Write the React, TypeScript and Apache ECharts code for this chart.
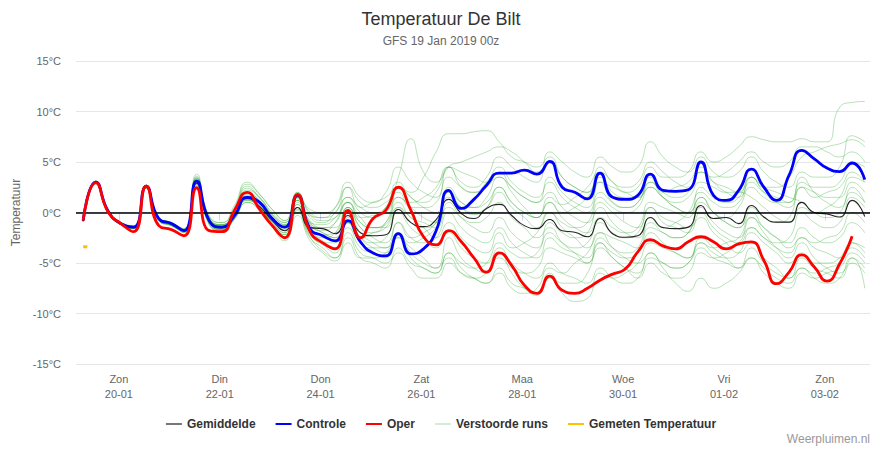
import React, { useEffect, useRef } from "react";
import * as echarts from "echarts";

// time axis: hours since 20-01 00:00, data every 6 hours
const START_HOUR = -17;
const STEP_HOURS = 6;

const TICK_HOURS = [0, 48, 96, 144, 192, 240, 288, 336];
const TICK_DAYS = ["Zon", "Din", "Don", "Zat", "Maa", "Woe", "Vri", "Zon"];
const TICK_DATES = ["20-01", "22-01", "24-01", "26-01", "28-01", "30-01", "01-02", "03-02"];

const GEMIDDELDE = [-0.8, 2.9, 0.0, -1.1, -1.5, 2.5, -0.7, -1.1, -1.8, 2.9, -0.9, -1.5, -0.2, 1.4, 0.6, -0.8, -1.8, 0.5, -1.5, -1.6, -2.1, -0.3, -2.0, -2.3, -2.2, 0.3, -1.0, -1.4, -0.7, 1.3, -0.1, -0.6, 0.4, 0.8, -0.3, -1.3, -1.6, -0.7, -1.8, -1.95, -2.4, -0.6, -2.1, -2.45, -2.3, -0.5, -1.5, -1.6, -1.45, 0.7, -0.6, -0.5, -1.1, 0.7, -0.45, -0.95, -0.95, 1.0, 0.0, -0.15, -0.45, 1.2, -0.4];
const CONTROLE = [-0.8, 3.0, 0.1, -1.1, -1.45, 2.6, -0.6, -1.1, -1.8, 3.1, -0.8, -1.45, -0.3, 1.5, 1.0, -0.6, -1.45, 1.7, -1.6, -2.3, -2.8, -0.8, -2.9, -4.0, -4.3, -2.1, -4.1, -3.6, -1.8, 2.2, 0.4, 1.3, 2.7, 3.9, 3.9, 4.2, 3.8, 5.05, 2.5, 2.0, 1.35, 3.9, 1.5, 1.3, 1.7, 3.8, 2.2, 2.1, 2.25, 5.0, 1.7, 1.2, 2.2, 4.3, 2.5, 1.2, 3.7, 6.15, 5.3, 4.4, 4.05, 4.9, 3.25];
const OPER = [-0.8, 2.95, 0.0, -1.1, -1.9, 2.6, -1.3, -1.7, -2.3, 2.45, -1.8, -1.9, 0.2, 2.0, 0.3, -1.3, -2.5, 1.8, -1.9, -3.0, -3.6, 0.2, -2.5, -0.6, 0.2, 2.5, 0.2, -2.4, -3.2, -1.8, -2.9, -4.5, -5.9, -4.0, -5.25, -7.2, -8.0, -6.3, -7.7, -8.0, -7.5, -6.7, -6.1, -5.6, -3.9, -2.7, -3.3, -3.6, -2.9, -2.4, -2.9, -3.6, -3.1, -2.9, -4.75, -7.05, -5.9, -4.2, -5.4, -6.8, -5.1, -2.35];
const GEMETEN_HOURS = [-17, -15];
const GEMETEN = [-3.4, -3.4];

const M01 = [-0.7, 3.1, 0.2, -1.0, -1.4, 2.7, -0.5, -1.0, -1.7, 3.4, -0.6, -1.3, 0.2, 2.0, 1.2, -0.3, -1.2, 1.2, -0.8, -1.5, -1.0, 1.0, -0.5, -1.5, -1.2, 1.5, 0.5, -0.5, -1.0, 2.0, 0.5, -0.2, 0.5, 2.5, 1.0, 0.0, -0.5, 1.5, 0.8, 1.5, 2.5, 4.0, 3.0, 2.0, 2.5, 4.5, 3.5, 3.5, 4.0, 6.0, 5.0, 5.5, 6.5, 7.5, 7.2, 7.0, 7.0, 7.3, 7.0, 7.0, 10.4, 10.9, 11.0];
const M02 = [-0.9, 2.9, 0.0, -1.2, -1.5, 2.5, -0.7, -1.2, -1.9, 2.9, -1.0, -1.6, -0.4, 1.2, 0.5, -0.9, -1.8, 0.8, -1.0, -1.2, -0.5, 1.0, -0.5, -0.3, 0.0, 3.5, 7.3, 4.0, 3.0, 4.5, 2.5, 2.0, 2.5, 4.0, 2.5, 1.5, 1.0, 3.5, 2.0, 1.0, 0.5, 3.0, 1.0, 0.5, 1.0, 3.5, 2.0, 2.5, 3.0, 4.5, 3.0, 2.0, 1.5, 3.5, 2.0, 1.0, 0.5, 2.5, 1.5, 2.0, 2.5, 4.0, 3.0];
const M03 = [-0.8, 3.0, 0.1, -1.0, -1.3, 2.6, -0.5, -1.0, -1.6, 3.3, -0.5, -1.2, 0.3, 2.6, 1.5, 0.0, -1.0, 1.5, -0.3, -0.5, 0.0, 2.5, 0.5, 1.0, 1.5, 2.5, 2.0, 3.5, 6.0, 7.8, 7.8, 8.0, 8.1, 7.0, 5.5, 5.0, 4.5, 5.5, 3.5, 2.5, 2.0, 3.5, 2.0, 1.5, 1.5, 3.0, 1.5, 0.5, 0.0, 1.5, 0.0, -0.5, 0.5, 2.5, 1.5, 1.0, 1.0, 3.0, 2.5, 2.5, 3.0, 5.0, 4.5];
const M04 = [-0.9, 2.8, 0.0, -1.2, -1.6, 2.4, -0.8, -1.3, -2.0, 2.6, -1.2, -1.9, -0.6, 1.0, 0.2, -1.3, -2.5, 0.0, -2.5, -3.5, -4.5, -2.5, -4.5, -5.0, -5.5, -3.5, -5.0, -5.5, -6.0, -4.0, -5.5, -6.5, -7.0, -5.5, -7.0, -7.5, -8.0, -6.5, -8.0, -8.8, -8.5, -6.0, -6.5, -6.0, -5.0, -3.0, -3.5, -4.0, -4.5, -2.5, -3.5, -4.5, -5.5, -3.5, -5.0, -6.0, -6.5, -4.5, -5.5, -6.0, -6.5, -5.0, -6.0];
const M05 = [-0.8, 2.9, 0.1, -1.1, -1.5, 2.5, -0.6, -1.2, -1.9, 3.0, -0.9, -1.6, -0.5, 1.6, 0.6, -1.0, -2.0, 0.5, -2.0, -3.0, -3.5, -1.5, -3.5, -4.0, -4.5, -2.0, -4.0, -5.0, -5.5, -2.5, -4.5, -5.5, -6.0, -4.0, -6.0, -7.5, -8.2, -6.0, -7.0, -7.0, -6.0, -3.0, -4.0, -4.5, -4.0, -1.5, -2.0, -2.5, -2.0, 0.5, -1.0, -2.0, -2.5, -0.5, -2.0, -3.5, -4.5, -3.0, -4.5, -5.5, -6.0, -4.5, -7.5];
const M06 = [-0.7, 3.1, 0.2, -1.0, -1.4, 2.7, -0.5, -1.0, -1.7, 3.5, -0.4, -1.0, 0.5, 2.8, 1.8, 0.3, -0.8, 2.0, 0.0, -0.5, 0.5, 3.0, 1.5, 1.0, 2.0, 4.5, 3.0, 2.0, 1.5, 4.5, 3.0, 2.5, 3.5, 5.5, 4.5, 3.5, 3.0, 6.0, 5.0, 4.0, 3.5, 5.5, 4.5, 4.0, 4.5, 7.0, 5.5, 4.5, 4.0, 5.5, 4.0, 3.5, 4.0, 5.5, 4.0, 3.0, 2.5, 4.0, 3.5, 3.5, 4.5, 7.6, 7.0];
const M07 = [-0.8, 3.0, 0.0, -1.2, -1.5, 2.6, -0.7, -1.2, -1.8, 3.2, -0.7, -1.4, -0.2, 1.8, 1.2, -0.5, -1.5, 1.0, -1.5, -2.5, -2.0, 0.5, -1.5, -2.5, -3.0, -1.0, -2.5, -3.0, -2.5, 0.0, -1.5, -2.5, -3.0, -1.5, -3.0, -4.0, -4.5, -2.5, -3.5, -4.0, -4.5, -2.5, -3.5, -4.0, -3.5, -0.5, -1.5, -1.0, 0.0, 2.0, 1.0, 0.5, 1.0, 3.0, 2.0, 1.5, 1.0, 3.5, 2.0, 1.0, 0.5, 2.5, 1.0];
const M08 = [-0.9, 2.9, 0.0, -1.1, -1.5, 2.5, -0.7, -1.3, -1.9, 2.8, -1.1, -1.7, -0.6, 1.2, 0.5, -1.2, -2.2, 0.3, -2.2, -3.2, -4.0, -1.0, -3.0, -3.5, -3.5, -1.0, -2.5, -2.0, -1.0, 1.5, 0.5, 0.0, 0.5, 2.0, 0.5, -0.5, -1.5, 0.0, -1.5, -2.5, -3.5, -2.0, -3.5, -4.5, -5.0, -4.0, -5.5, -7.0, -7.8, -6.5, -7.5, -7.0, -6.0, -4.5, -5.5, -6.5, -7.0, -5.5, -6.0, -5.5, -5.0, -3.5, -4.5];
const M09 = [-0.8, 3.0, 0.1, -1.1, -1.4, 2.6, -0.6, -1.1, -1.8, 3.1, -0.8, -1.5, -0.3, 1.5, 1.0, -0.6, -1.5, 1.5, -1.0, -1.5, -1.5, 0.5, -1.0, -1.5, -1.0, 1.0, -0.5, -1.0, -1.5, 1.0, -0.5, -1.5, -2.0, -0.5, -2.0, -3.0, -3.5, -1.0, -2.0, -2.5, -2.0, 1.0, 0.0, -1.0, -1.5, 0.5, -1.0, -1.5, -2.0, 0.0, -1.5, -2.5, -3.0, -1.5, -2.5, -3.0, -2.5, 0.0, -1.0, -1.5, -1.0, 1.5, 0.5];
const M10 = [-0.8, 3.1, 0.1, -1.0, -1.4, 2.7, -0.6, -1.1, -1.7, 3.6, -0.6, -1.2, 0.0, 2.2, 1.5, -0.2, -1.2, 1.8, -0.5, -1.0, 0.0, 1.5, 0.0, -0.5, 0.5, 3.0, 1.5, 1.0, 2.0, 4.5, 5.0, 5.5, 6.0, 6.5, 6.0, 5.0, 4.0, 5.0, 3.5, 2.5, 2.0, 4.5, 3.0, 2.5, 3.0, 5.0, 4.0, 3.0, 2.5, 4.0, 3.0, 2.5, 2.0, 3.5, 2.5, 2.5, 3.5, 5.5, 6.0, 6.5, 6.8, 7.2, 6.5];
const M11 = [-0.9, 2.9, 0.0, -1.2, -1.6, 2.4, -0.8, -1.3, -2.0, 2.7, -1.2, -1.8, -0.7, 1.0, 0.3, -1.4, -2.8, -0.3, -2.8, -4.0, -4.8, -3.0, -4.5, -4.5, -4.0, -2.5, -3.5, -4.5, -5.5, -4.5, -6.0, -6.5, -6.0, -4.5, -5.5, -6.0, -5.5, -3.5, -4.0, -4.5, -5.0, -3.5, -4.5, -5.5, -6.0, -4.0, -5.0, -5.5, -5.0, -3.0, -3.5, -3.0, -2.5, -0.5, -1.5, -2.5, -3.5, -2.5, -3.5, -4.0, -4.5, -3.0, -4.0];
const M12 = [-0.8, 3.0, 0.1, -1.1, -1.5, 2.6, -0.6, -1.2, -1.8, 3.0, -0.9, -1.5, -0.4, 1.4, 0.8, -0.8, -1.7, 1.2, -1.2, -1.8, -1.0, 1.5, 0.5, 0.0, 0.5, 2.5, 1.5, 0.5, 0.0, 2.5, 1.0, 0.5, 1.5, 3.5, 2.5, 1.5, 1.0, 2.0, 0.5, -0.5, -1.0, 0.5, -1.0, -2.0, -2.5, -1.0, -2.0, -2.5, -2.0, 1.0, 0.0, -1.0, -1.5, 0.5, -0.5, -1.0, -0.5, 2.5, 2.0, 1.5, 1.5, 3.0, 2.0];
const M13 = [-0.7, 3.1, 0.2, -1.0, -1.4, 2.7, -0.5, -1.0, -1.7, 3.3, -0.6, -1.3, 0.1, 2.0, 1.0, -0.5, -1.3, 1.4, -1.0, -2.0, -2.5, 0.0, -2.0, -3.0, -3.5, -2.5, -4.5, -5.5, -6.0, -4.0, -5.0, -5.5, -5.0, -3.0, -4.0, -4.5, -4.0, -2.0, -3.0, -3.5, -3.0, -1.0, -2.0, -2.5, -2.0, 0.5, -0.5, -1.0, -1.5, -0.5, -2.0, -3.0, -4.0, -3.0, -4.5, -5.5, -6.5, -5.5, -6.5, -7.0, -6.5, -4.5, -5.5];
const M14 = [-0.8, 3.0, 0.0, -1.1, -1.5, 2.6, -0.6, -1.2, -1.9, 3.0, -1.0, -1.6, -0.5, 1.3, 0.4, -1.1, -2.2, 0.8, -1.8, -2.8, -3.5, -1.0, -2.5, -2.0, -1.5, 0.5, -0.5, -1.5, -2.5, -1.0, -2.5, -3.5, -4.0, -2.0, -3.5, -3.0, -2.0, 0.0, -1.0, -1.5, -1.0, 1.5, 0.5, 0.0, 0.5, 2.5, 1.5, 0.5, 0.0, 1.5, 0.0, -1.0, -1.5, 0.0, -1.5, -2.5, -3.0, -1.5, -2.5, -3.0, -2.5, -1.0, -2.0];
const M15 = [-0.8, 3.0, 0.1, -1.1, -1.5, 2.6, -0.6, -1.2, -1.8, 3.2, -0.8, -1.4, -0.3, 1.6, 0.9, -0.7, -1.6, 1.5, -1.2, -2.0, -2.5, -0.5, -2.5, -3.5, -4.0, -2.0, -3.0, -2.5, -1.5, 0.5, -0.5, -1.0, -0.5, 1.0, -0.5, -1.5, -2.5, -1.5, -3.0, -4.0, -5.0, -3.0, -4.5, -5.5, -6.5, -5.0, -6.0, -6.5, -6.0, -4.0, -4.5, -4.0, -3.0, -1.5, -2.5, -3.5, -4.0, -2.5, -3.0, -2.5, -2.0, 0.0, -1.0];
const M16 = [-0.9, 2.9, 0.0, -1.2, -1.6, 2.5, -0.7, -1.3, -1.9, 2.9, -1.0, -1.7, -0.5, 1.3, 0.6, -1.0, -2.0, 0.5, -2.0, -3.0, -3.0, -1.0, -2.5, -3.0, -2.5, 0.0, -1.5, -2.5, -3.5, -2.0, -3.5, -4.5, -5.0, -3.5, -5.0, -6.0, -6.5, -5.0, -6.0, -6.5, -7.0, -5.5, -6.5, -7.0, -6.5, -4.5, -5.0, -5.5, -5.0, -3.5, -4.5, -5.0, -5.5, -4.5, -6.0, -7.0, -7.5, -6.0, -6.5, -6.0, -5.5, -4.0, -5.0];
const M17 = [-0.7, 3.1, 0.2, -1.0, -1.3, 2.7, -0.5, -1.0, -1.6, 3.8, -0.3, -1.0, 0.7, 3.0, 1.8, 0.3, -0.8, 1.8, 0.3, 0.0, 0.5, 2.5, 1.0, 0.5, 1.0, 2.0, 0.5, 0.5, 1.0, 3.5, 2.5, 2.0, 3.0, 4.5, 3.0, 2.0, 1.5, 3.0, 1.5, 0.5, 0.0, 2.0, 1.0, 0.5, 1.0, 3.0, 2.0, 1.5, 2.0, 4.0, 3.5, 4.0, 5.0, 6.0, 5.0, 4.5, 5.0, 6.5, 6.5, 6.0, 5.5, 6.0, 5.0];
const M18 = [-0.8, 3.0, 0.1, -1.1, -1.5, 2.6, -0.6, -1.1, -1.8, 3.1, -0.8, -1.5, -0.3, 1.7, 1.0, -0.6, -1.5, 1.2, -1.5, -2.2, -2.0, 0.5, -1.5, -2.0, -1.0, 1.5, 1.0, 1.5, 2.5, 4.5, 4.0, 3.5, 3.0, 3.5, 2.0, 0.5, -0.5, 1.0, -0.5, -1.5, -2.0, -0.5, -1.5, -2.0, -1.5, 1.0, 0.5, 0.0, -0.5, 2.5, 1.5, 1.0, 1.5, 3.5, 2.5, 2.0, 1.5, 1.0, 0.0, -0.5, 0.0, 2.0, 1.0];
const M19 = [-0.9, 2.9, 0.0, -1.2, -1.6, 2.5, -0.7, -1.2, -1.9, 2.8, -1.0, -1.7, -0.6, 1.4, 0.5, -1.2, -2.4, 0.2, -2.4, -3.8, -4.5, -2.0, -4.0, -4.5, -5.0, -4.0, -5.5, -6.5, -6.5, -5.0, -6.0, -6.5, -7.0, -6.0, -7.5, -8.0, -7.5, -5.5, -6.0, -5.0, -4.0, -2.0, -2.5, -3.0, -3.5, -2.0, -3.0, -4.0, -4.5, -3.0, -4.0, -4.5, -4.0, -2.0, -3.0, -4.0, -5.0, -4.0, -5.0, -5.0, -4.5, -3.0, -3.5];
const M20 = [-0.8, 3.0, 0.0, -1.1, -1.4, 2.6, -0.6, -1.1, -1.7, 3.4, -0.6, -1.2, 0.2, 2.4, 1.4, -0.2, -1.0, 2.0, -0.2, -0.8, -0.5, 1.0, -1.0, -1.5, -1.5, 0.5, -1.0, -1.5, -1.0, 2.0, 1.0, 0.5, 1.0, 2.5, 1.0, 0.0, -0.5, 1.0, 0.0, 0.5, 1.5, 3.0, 2.5, 2.0, 1.5, 2.5, 1.5, 1.0, 1.5, 3.0, 2.5, 2.0, 2.0, 1.5, 0.5, -0.5, -1.0, 0.5, 0.0, 0.5, 1.5, 3.5, 3.0];

const MEMBERS = [M01, M02, M03, M04, M05, M06, M07, M08, M09, M10, M11, M12, M13, M14, M15, M16, M17, M18, M19, M20];

const FONT = "'Liberation Sans', Arial, Helvetica, sans-serif";
const SMOOTH = 0.55;

function toPoints(values: number[]) {
  return values.map((v, i) => [START_HOUR + STEP_HOURS * i, v]);
}

function tickLabel(v: number) {
  const i = TICK_HOURS.indexOf(Math.round(v));
  return i >= 0 ? TICK_DAYS[i] + "\n" + TICK_DATES[i] : "";
}

export default function App() {
  const ref = useRef<HTMLDivElement>(null);

  useEffect(() => {
    if (!ref.current) return;
    const chart = echarts.init(ref.current, undefined, { renderer: "svg" });

    const memberSeries = MEMBERS.map((m) => ({
      type: "line",
      name: "Verstoorde runs",
      data: toPoints(m),
      smooth: SMOOTH,
      symbol: "none",
      color: "rgba(0,150,0,0.28)",
      lineStyle: { color: "rgba(0,150,0,0.28)", width: 1 },
      z: 2,
      silent: true,
    }));

    const option: any = {
      animation: false,
      backgroundColor: "#ffffff",
      textStyle: { fontFamily: FONT },
      title: [
        {
          text: "Temperatuur De Bilt",
          subtext: "GFS 19 Jan 2019 00z",
          left: "center",
          top: 5,
          itemGap: 7,
          textStyle: { fontSize: 18, fontWeight: "normal", color: "#333333", fontFamily: FONT },
          subtextStyle: { fontSize: 12, color: "#666666", fontFamily: FONT },
        },
        {
          text: "Weerpluimen.nl",
          right: 7,
          bottom: 0,
          textStyle: { fontSize: 12, fontWeight: "normal", color: "#999999", fontFamily: FONT },
        },
      ],
      grid: { left: 76, right: 12, top: 61, bottom: 86 },
      xAxis: {
        type: "value",
        min: -20.4,
        max: 357.5,
        axisLine: { lineStyle: { color: "#ccd6eb" } },
        axisTick: { show: true, length: 8, lineStyle: { color: "#ccd6eb" }, customValues: TICK_HOURS },
        axisLabel: {
          customValues: TICK_HOURS,
          formatter: tickLabel,
          color: "#666666",
          fontSize: 11,
          lineHeight: 15,
          margin: 7,
          fontFamily: FONT,
        },
        splitLine: { show: false },
      },
      yAxis: {
        type: "value",
        min: -15,
        max: 15,
        interval: 5,
        name: "Temperatuur",
        nameLocation: "middle",
        nameGap: 48,
        nameTextStyle: { color: "#666666", fontSize: 12, fontFamily: FONT },
        axisLine: { show: false },
        axisTick: { show: false },
        axisLabel: { formatter: "{value}°C", color: "#666666", fontSize: 11, margin: 15, fontFamily: FONT },
        splitLine: { lineStyle: { color: "#e6e6e6", width: 1 } },
      },
      legend: {
        top: 413,
        left: "center",
        icon: "rect",
        itemWidth: 16,
        itemHeight: 2,
        itemGap: 20,
        selectedMode: false,
        textStyle: { fontSize: 12, fontWeight: "bold", color: "#333333", fontFamily: FONT },
        data: [
          { name: "Gemiddelde", itemStyle: { color: "#777777" }, lineStyle: { color: "#777777" } },
          { name: "Controle", itemStyle: { color: "#0000ff" } },
          { name: "Oper", itemStyle: { color: "#ff0000" } },
          { name: "Verstoorde runs", itemStyle: { color: "#d4ecd4" }, lineStyle: { color: "#d4ecd4" } },
          { name: "Gemeten Temperatuur", itemStyle: { color: "#ffc000" } },
        ],
      },
      series: [
        ...memberSeries,
        {
          type: "line",
          name: "Gemiddelde",
          data: toPoints(GEMIDDELDE),
          smooth: SMOOTH,
          symbol: "none",
          color: "#222222",
          lineStyle: { color: "#222222", width: 1.1 },
          z: 3,
          markLine: {
            silent: true,
            symbol: ["none", "none"],
            label: { show: false },
            lineStyle: { color: "#000000", width: 1.5, type: "solid" },
            data: [{ yAxis: 0 }],
          },
        },
        {
          type: "line",
          name: "Controle",
          data: toPoints(CONTROLE),
          smooth: SMOOTH,
          symbol: "none",
          color: "#0000ff",
          lineStyle: { color: "#0000ff", width: 2.8 },
          z: 4,
        },
        {
          type: "line",
          name: "Oper",
          data: toPoints(OPER),
          smooth: SMOOTH,
          symbol: "none",
          color: "#ff0000",
          lineStyle: { color: "#ff0000", width: 2.8 },
          z: 5,
        },
        {
          type: "line",
          name: "Gemeten Temperatuur",
          data: GEMETEN_HOURS.map((h, i) => [h, GEMETEN[i]]),
          symbol: "none",
          color: "#ffc000",
          lineStyle: { color: "#ffc000", width: 3 },
          z: 6,
        },
      ],
    };

    chart.setOption(option);
    return () => chart.dispose();
  }, []);

  return (
    <div
      ref={ref}
      style={{ position: "fixed", left: 0, top: 0, width: 882, height: 450, background: "#fff" }}
    />
  );
}
